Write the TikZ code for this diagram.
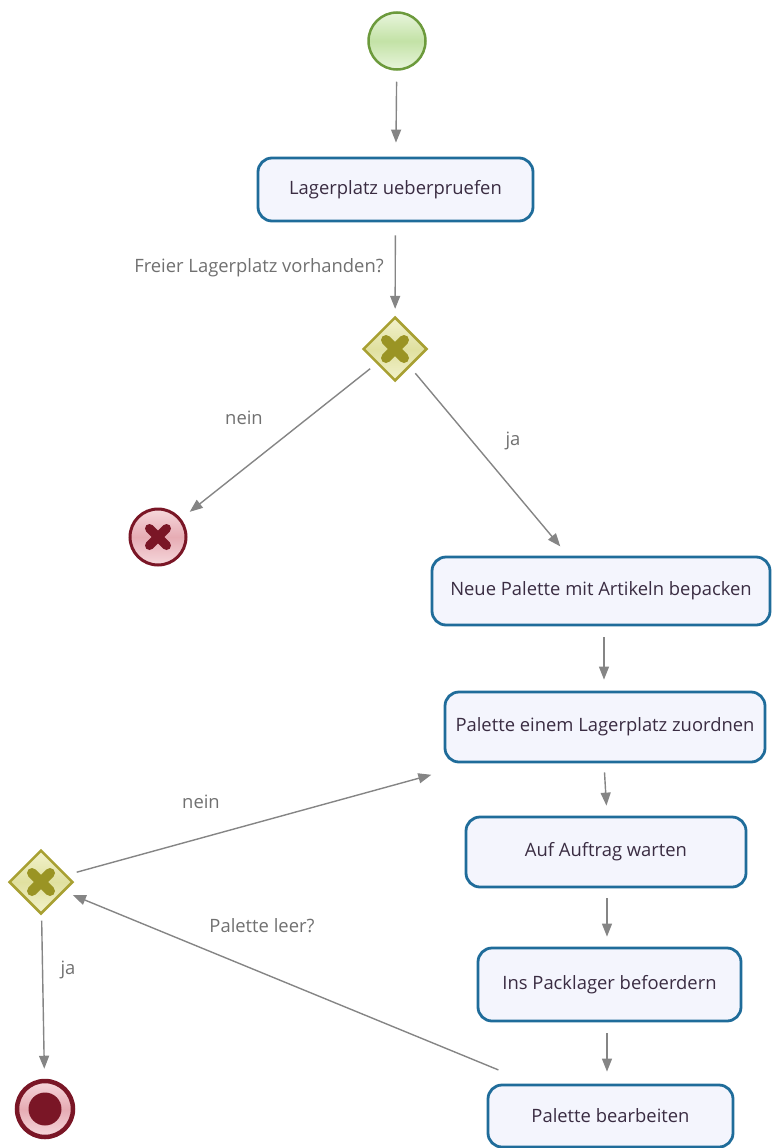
\documentclass[tikz,border=0pt]{standalone}
\usepackage{fontspec}
\setmainfont{Open Sans}
\usetikzlibrary{shapes.geometric,arrows.meta,calc}

\definecolor{taskline}{HTML}{1F6C9A}
\definecolor{taskfill}{HTML}{F4F5FD}
\definecolor{tasktext}{HTML}{3A2C42}
\definecolor{flowgrey}{HTML}{858585}
\definecolor{lblgrey}{HTML}{707070}
\definecolor{startline}{HTML}{6C9A3C}
\definecolor{starttop}{HTML}{E8F5DC}
\definecolor{startmid}{HTML}{C3E2A6}
\definecolor{gateline}{HTML}{A8A032}
\definecolor{gatetop}{HTML}{F2F2CC}
\definecolor{gatemid}{HTML}{E0E0A0}
\definecolor{gatecross}{HTML}{9A9424}
\definecolor{endline}{HTML}{7A1626}
\definecolor{endtop}{HTML}{F6D8DC}
\definecolor{endmid}{HTML}{E6ACB4}

\tikzset{
  task/.style={draw=taskline, line width=2.8pt, rounded corners=14pt,
    fill=taskfill, text=tasktext, font=\fontsize{18.4}{22}\selectfont,
    inner sep=0pt, align=center},
  flow/.style={draw=flowgrey, line width=1.4pt,
    -{Triangle[length=13pt,width=10pt,fill=flowgrey]}},
  lbl/.style={text=lblgrey, font=\fontsize{18.4}{22}\selectfont, inner sep=0pt},
  gate/.style={diamond, aspect=1, minimum width=64pt, minimum height=64pt,
    inner sep=0pt, draw=gateline, line width=2.5pt,
    top color=gatetop, bottom color=gatetop, middle color=gatemid},
  gatex/.style={draw=gatecross, line width=10pt, line cap=round},
  startev/.style={circle, minimum size=57pt, inner sep=0pt, draw=startline,
    line width=2.5pt, top color=starttop, bottom color=starttop, middle color=startmid},
  errev/.style={circle, minimum size=56pt, inner sep=0pt, draw=endline,
    line width=3pt, top color=endtop, bottom color=endtop, middle color=endmid},
  endev/.style={circle, minimum size=56pt, inner sep=0pt, draw=endline,
    line width=4.5pt, top color=endtop, bottom color=endtop, middle color=endmid},
  endcore/.style={circle, minimum size=33pt, inner sep=0pt, fill=endline},
  errx/.style={draw=endline, line width=9pt, line cap=round},
}

\begin{document}
\begin{tikzpicture}[x=1pt,y=-1pt]
\useasboundingbox (0,0) rectangle (771,1148);

% events and gateways
\node[startev] (start) at (397,41) {};
\node[gate] (g1) at (395,349) {};
\node[errev] (err) at (158,537) {};
\node[gate] (g2) at (41,882) {};
\node[endev] (fin) at (45,1109) {};
\node[endcore] (fincore) at (fin.center) {};

% gateway crosses
\draw[gatex] ([shift={(-9,-9)}]g1.center) -- ([shift={(9,9)}]g1.center);
\draw[gatex] ([shift={(-9,9)}]g1.center) -- ([shift={(9,-9)}]g1.center);
\draw[gatex] ([shift={(-9,-9)}]g2.center) -- ([shift={(9,9)}]g2.center);
\draw[gatex] ([shift={(-9,9)}]g2.center) -- ([shift={(9,-9)}]g2.center);
% error cross
\draw[errx] ([shift={(-8.5,-8.5)}]err.center) -- ([shift={(8.5,8.5)}]err.center);
\draw[errx] ([shift={(-8.5,8.5)}]err.center) -- ([shift={(8.5,-8.5)}]err.center);

% tasks
\node[task, minimum width=275pt, minimum height=63pt] (t1) at (395.5,189.5) {Lagerplatz ueberpruefen};
\node[task, minimum width=338pt, minimum height=68pt] (t2) at (601,591) {Neue Palette mit Artikeln bepacken};
\node[task, minimum width=320pt, minimum height=70pt] (t3) at (605,727) {Palette einem Lagerplatz zuordnen};
\node[task, minimum width=280pt, minimum height=70pt] (t4) at (606,852) {Auf Auftrag warten};
\node[task, minimum width=263pt, minimum height=73pt] (t5) at (609.5,984.5) {Ins Packlager befoerdern};
\node[task, minimum width=245pt, minimum height=62pt] (t6) at (610.5,1116) {Palette bearbeiten};

% sequence flows
\draw[flow, shorten >=14pt, shorten <=11pt] (start) -- (t1);
\draw[flow, shorten >=7pt, shorten <=13pt] (t1) -- (g1);
\draw[flow, shorten >=11pt, shorten <=8pt] (g1) -- (err);
\draw[flow, shorten >=12pt, shorten <=8pt] (g1) -- ([xshift=-33pt]t2.north);
\draw[flow, shorten >=11pt, shorten <=11pt] ([xshift=3pt]t2.south) -- ([xshift=-1pt]t3.north);
\draw[flow, shorten >=10pt, shorten <=9pt] ([xshift=-1pt]t3.south) -- ([xshift=1pt]t4.north);
\draw[flow, shorten >=10pt, shorten <=10pt] ([xshift=1pt]t4.south) -- ([xshift=-2.5pt]t5.north);
\draw[flow, shorten >=12pt, shorten <=11pt] ([xshift=-2.5pt]t5.south) -- ([xshift=-3.5pt]t6.north);
\draw[flow, shorten >=43pt, shorten <=10pt] (g2) -- (t3);
\draw[flow, shorten >=9pt, shorten <=36pt] (t6) -- (g2);
\draw[flow, shorten >=10pt, shorten <=6pt] (g2) -- (fin);

% flow labels
\node[lbl] (lq1) at (259,268) {Freier Lagerplatz vorhanden?};
\node[lbl] (ln1) at (244,418) {nein};
\node[lbl] (lj1) at (513,441) {ja};
\node[lbl] (ln2) at (201,802) {nein};
\node[lbl] (lq2) at (262,926) {Palette leer?};
\node[lbl] (lj2) at (68,970) {ja};
\end{tikzpicture}
\end{document}
